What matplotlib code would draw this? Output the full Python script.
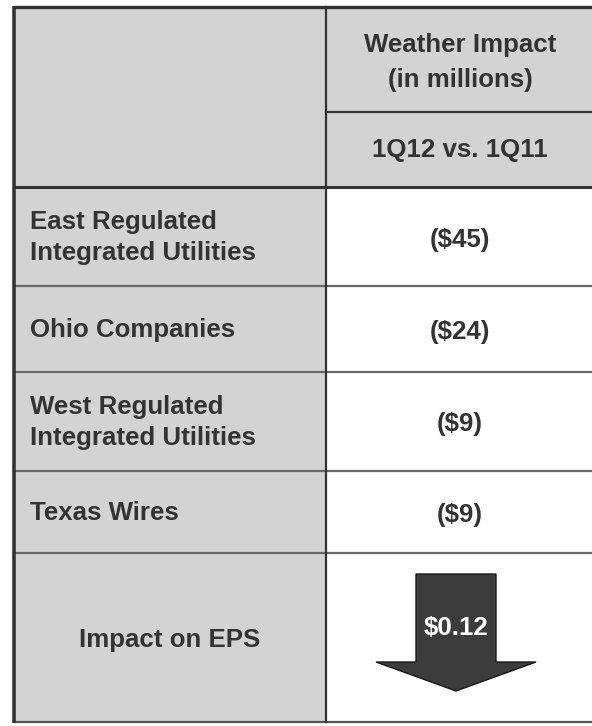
#!/usr/bin/env python3
"""Weather impact table, 1Q12 vs. 1Q11, with an EPS arrow."""
import matplotlib
matplotlib.use("Agg")
import matplotlib.pyplot as plt
from matplotlib.patches import Rectangle, Polygon

# table content
HEADER_TOP = ["Weather Impact", "(in millions)"]
HEADER_SUB = "1Q12 vs. 1Q11"
SEGMENTS = ["East Regulated\nIntegrated Utilities", "Ohio Companies",
            "West Regulated\nIntegrated Utilities", "Texas Wires"]
IMPACTS = ["($45)", "($24)", "($9)", "($9)"]
EPS_LABEL = "Impact on EPS"
EPS_VALUE = "$0.12"

# layout in pixels (figure is 592 x 726)
W, H = 592, 726
X0, XMID = 14, 326
Y_TOP, Y_SPLIT, Y_HEAD = 7, 112, 187
ROW_EDGES = [187, 286, 372, 471, 553, 722]

SHADE = "#d3d3d3"
INK = "#333333"
FONT = {"family": "Liberation Sans", "weight": "bold", "size": 18.6, "color": INK}

fig = plt.figure(figsize=(W / 100, H / 100), dpi=100)
ax = fig.add_axes([0, 0, 1, 1])
ax.set_xlim(0, W)
ax.set_ylim(H, 0)
ax.axis("off")

# shaded cells: whole left column and the right header
ax.add_patch(Rectangle((X0, Y_TOP), XMID - X0, ROW_EDGES[-1] - Y_TOP,
                       facecolor=SHADE, edgecolor="none"))
ax.add_patch(Rectangle((XMID, Y_TOP), W - XMID, Y_HEAD - Y_TOP,
                       facecolor=SHADE, edgecolor="none"))

# grid lines
ax.plot([X0, W], [Y_TOP, Y_TOP], color=INK, lw=2.4, solid_capstyle="butt")
ax.plot([XMID, W], [Y_SPLIT, Y_SPLIT], color=INK, lw=1.6)
ax.plot([X0, W], [Y_HEAD, Y_HEAD], color=INK, lw=2.2)
for y in ROW_EDGES[1:-1]:
    ax.plot([X0, W], [y, y], color="#6a6a6a", lw=1.6)
ax.plot([X0, W], [ROW_EDGES[-1], ROW_EDGES[-1]], color="#555555", lw=1.6)
ax.plot([X0, X0], [Y_TOP - 1, ROW_EDGES[-1] + 1], color=INK, lw=2.6,
        solid_capstyle="butt")
ax.plot([XMID, XMID], [Y_TOP, ROW_EDGES[-1]], color=INK, lw=1.6)

xc = (XMID + W) / 2
ax.text(xc + 1, 45, HEADER_TOP[0], ha="center", va="center", **FONT)
ax.text(xc + 1, 80, HEADER_TOP[1], ha="center", va="center", **FONT)
ax.text(xc + 1, (Y_SPLIT + Y_HEAD) / 2, HEADER_SUB, ha="center", va="center", **FONT)

for i, (seg, val) in enumerate(zip(SEGMENTS, IMPACTS)):
    yc = (ROW_EDGES[i] + ROW_EDGES[i + 1]) / 2
    ax.text(30, yc + 1, seg, ha="left", va="center", linespacing=1.32, **FONT)
    ax.text(xc + 1, yc + 3, val, ha="center", va="center", **FONT)

# EPS row
ax.text((X0 + XMID) / 2, 640, EPS_LABEL, ha="center", va="center", **FONT)

ax_c = 456
shaft_half, head_half = 40, 80
top, neck, tip = 574, 662, 691
arrow = Polygon([(ax_c - shaft_half, top), (ax_c + shaft_half, top),
                 (ax_c + shaft_half, neck), (ax_c + head_half, neck),
                 (ax_c, tip), (ax_c - head_half, neck),
                 (ax_c - shaft_half, neck)],
                closed=True, facecolor="#3c3c3c", edgecolor="#1a1a1a", lw=1.0)
ax.add_patch(arrow)
ax.text(ax_c, 628, EPS_VALUE, ha="center", va="center",
        family="Liberation Sans", weight="bold", size=18.6, color="white")

fig.savefig("out.png", dpi=100)
